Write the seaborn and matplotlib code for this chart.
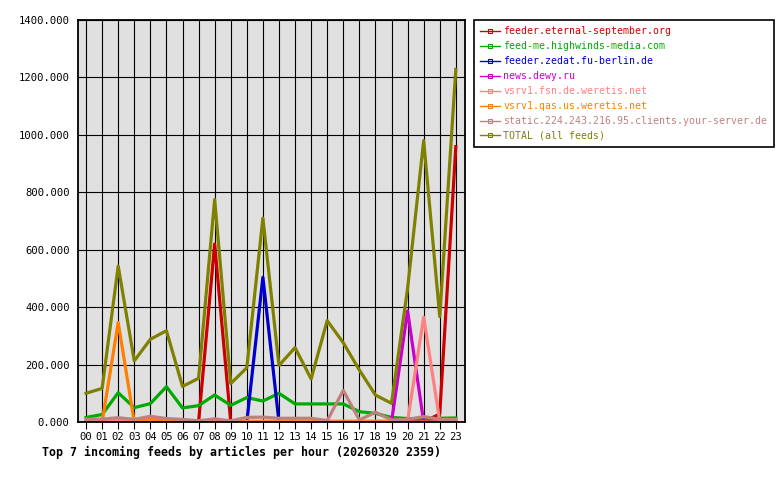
import pandas as pd
import matplotlib.pyplot as plt
import seaborn as sns
from matplotlib.lines import Line2D

plt.rcParams['font.family'] = ['DejaVu Sans Mono']

# hours of the day
hours = ['00', '01', '02', '03', '04', '05', '06', '07', '08', '09', '10', '11',
         '12', '13', '14', '15', '16', '17', '18', '19', '20', '21', '22', '23']

# articles per hour for each feed
eternal = [0, 0, 0, 0, 0, 0, 0, 0, 620, 0, 0, 0, 0, 0, 0, 0, 0, 0, 0, 0, 0, 0, 28, 959]
highwinds = [16, 26, 102, 50, 64, 123, 49, 57, 94, 58, 85, 73, 100, 63, 63, 63, 63, 36, 30, 16, 12, 11, 13, 14]
zedat = [0, 0, 0, 0, 0, 0, 0, 0, 0, 0, 0, 504, 0, 0, 0, 0, 0, 0, 0, 0, 0, 0, 0, 0]
dewy = [0, 0, 0, 0, 0, 0, 0, 0, 0, 0, 0, 0, 0, 0, 0, 0, 0, 0, 0, 0, 387, 0, 0, 0]
fsn = [3, 3, 5, 3, 3, 3, 3, 3, 3, 3, 3, 3, 3, 3, 3, 3, 3, 3, 3, 3, 3, 365, 3, 3]
qas = [0, 0, 347, 0, 12, 3, 2, 0, 2, 0, 0, 0, 0, 0, 0, 0, 0, 0, 0, 0, 0, 0, 0, 0]
static = [10, 10, 15, 9, 20, 12, 9, 4, 11, 4, 16, 17, 13, 13, 13, 5, 110, 7, 34, 7, 9, 19, 9, 9]
total = [100, 117, 543, 213, 288, 318, 124, 152, 775, 134, 189, 710, 197, 259, 150, 353, 276, 181, 94, 65, 465, 980, 367, 1228]

feeds = ['feeder.eternal-september.org', 'feed-me.highwinds-media.com',
         'feeder.zedat.fu-berlin.de', 'news.dewy.ru', 'vsrv1.fsn.de.weretis.net',
         'vsrv1.qas.us.weretis.net', 'static.224.243.216.95.clients.your-server.de',
         'TOTAL (all feeds)']
colors = ['#cc0000', '#00aa00', '#0000cc', '#cc00cc', '#ff8080', '#ff8000', '#c08080', '#808000']

df = pd.DataFrame({'hour': range(24)})
for name, vals in zip(feeds, [eternal, highwinds, zedat, dewy, fsn, qas, static, total]):
    df[name] = vals
long = df.melt(id_vars='hour', var_name='feed', value_name='articles')

fig = plt.figure(figsize=(7.8, 4.8), dpi=100)
ax = fig.add_axes([78 / 780, 58 / 480, (464.5 - 78) / 780, (422 - 20) / 480])
ax.set_facecolor('#e0e0e0')
ax.set_axisbelow(True)

sns.lineplot(data=long, x='hour', y='articles', hue='feed', hue_order=feeds,
             palette=colors, linewidth=2.3, ax=ax, legend=False, sort=False)

ax.set_xlim(-0.5, 23.54)
ax.set_ylim(0, 1400)
ax.set_xticks(range(24))
ax.set_xticklabels(hours)
ax.set_yticks(range(0, 1401, 200))
ax.set_yticklabels([f'{v}.000' for v in range(0, 1401, 200)])
ax.grid(True, color='black', linewidth=0.8)
ax.tick_params(axis='x', length=5, width=0.8, color='black', labelsize=7.6, pad=2)
ax.tick_params(axis='y', length=0, labelsize=7.6, pad=6)
for s in ax.spines.values():
    s.set_color('black')
    s.set_linewidth(1.3)
ax.set_xlabel('')
ax.set_ylabel('')

fig.text(241 / 780, 1 - 452 / 480, 'Top 7 incoming feeds by articles per hour (20260320 2359)',
         ha='center', va='center', fontsize=8.4, fontweight='bold')

handles = [Line2D([], [], color=c, linewidth=1.0, marker='s', markersize=2.5,
                  markerfacecolor='none', markeredgewidth=0.8) for c in colors]
leg = fig.legend(handles, feeds, loc='upper left', bbox_to_anchor=(474 / 780, 1 - 20 / 480),
                 fontsize=7.1, frameon=True, fancybox=False, edgecolor='black',
                 framealpha=1, handlelength=2.0, handletextpad=0.3,
                 labelspacing=0.5, borderpad=0.65, borderaxespad=0)
leg.get_frame().set_linewidth(1.2)
for txt, c in zip(leg.get_texts(), colors):
    txt.set_color(c)

fig.savefig('out.png', dpi=100)
